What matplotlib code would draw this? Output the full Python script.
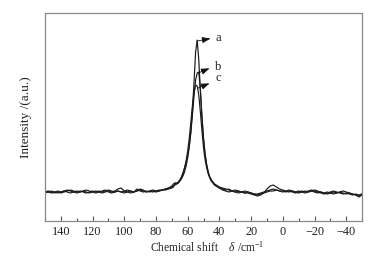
import numpy as np
import matplotlib
matplotlib.use("Agg")
import matplotlib.pyplot as plt

plt.rcParams['font.family'] = ['Liberation Serif', 'DejaVu Serif']
plt.rcParams['mathtext.fontset'] = 'custom'
plt.rcParams['mathtext.it'] = 'Liberation Serif:italic'
plt.rcParams['mathtext.rm'] = 'Liberation Serif'

# chemical shift grid (ppm)
shift = np.concatenate([np.arange(150, 69, -2), np.arange(69, 39, -1), np.arange(38, -51, -2)])

# intensities (a.u.)
a_vals = [
    0, 1, 0, -1, 0, -1, 0, 1, 2, 1, 0, 1, 0, -1, 0, 1, 0, 1, 0, 1, 2, 1, 0, 1, 0, -1, 0, 1, 0, 1, 2, 1, 0, 1, 0, 1, 2, 2, 3, 4, 5,
    6, 7, 8, 9, 11, 13, 16, 20, 26, 34, 45, 60, 82, 110, 140, 152, 132, 102, 74, 52, 37, 27, 20, 15, 12, 10, 8, 7, 6, 5,
    4, 3, 2, 1, 0, 1, 0, -1, 0, -1, -2, -2, -1, 0, 1, 2, 3, 2, 1, 1, 0, 1, 0, -1, 0, 1, 0, 1, 2, 1, 0, -1, -2, -1, 0, 1, 0, -1, -2, -1, -2, -3, -2, -3, -2,
]
b_vals = [
    1, 0, -1, 0, 1, 0, 1, 0, -1, 0, 1, 0, 1, 0, -1, 0, 1, 0, -1, 0, 1, 0, 1, 3, 4, 1, 0, -1, 0, 3, 1, 0, 1, 0, 1, 0, 1, 2, 3, 4, 6,
    8, 9, 9, 10, 12, 15, 19, 24, 30, 37, 47, 60, 77, 96, 112, 119, 120, 102, 76, 54, 38, 27, 19, 14, 11, 9, 7, 6, 5, 4,
    2, 1, 0, 1, 2, 1, 0, -1, -1, -2, -3, -4, -3, -1, 3, 6, 7, 5, 3, 2, 1, 0, 1, 0, -1, 0, 1, 0, 1, 0, -1, 0, -1, -2, -1, 0, -1, 0, -1, -2, -1, -2, -3, -4, -2,
]
c_vals = [
    -1, 0, 1, 0, -1, 0, 1, 2, 1, 0, -1, 0, 1, 2, 1, 0, -1, 0, 1, 2, 0, -1, 0, 1, 0, 1, 2, 1, 0, 1, 3, 2, 0, 1, 2, 1, 1, 2, 2, 3, 4,
    5, 9, 8, 9, 11, 14, 18, 24, 31, 41, 54, 70, 87, 100, 107, 106, 97, 80, 61, 44, 32, 24, 18, 14, 11, 9, 7, 6, 5, 4,
    3, 2, 3, 1, 0, -1, 0, 1, 0, -1, -2, -3, -2, -1, 0, 1, 1, 2, 1, 0, 1, 2, 1, 0, 1, 0, -1, 0, 1, 2, 1, 0, -1, 0, -1, -2, -1, 0, 1, 0, -1, -2, -3, -5, -3,
]
labels = ['a', 'b', 'c']
xticks = [140, 120, 100, 80, 60, 40, 20, 0, -20, -40]
xtick_labels = ['140', '120', '100', '80', '60', '40', '20', '0', '\u221220', '\u221240']

fig = plt.figure(figsize=(3.77, 2.58), dpi=100)
ax = fig.add_axes([0.1194, 0.1434, 0.841, 0.806])

for vals in (a_vals, b_vals, c_vals):
    ax.plot(shift, vals, color='#1a1a1a', lw=0.85)

ax.set_xlim(150, -50)
ax.set_ylim(-29, 179)
ax.set_xticks(xticks)
ax.set_xticklabels(xtick_labels)
ax.set_xticks(np.arange(150, -51, -10), minor=True)
ax.set_yticks([])
ax.tick_params(axis='x', which='major', direction='in', length=3.5, width=0.8, color='#555555',
               labelsize=8.8, pad=3.5, labelcolor='#222222')
ax.tick_params(axis='x', which='minor', direction='in', length=2, width=0.8, color='#555555')
for s in ax.spines.values():
    s.set_color('#8a8a8a')
    s.set_linewidth(0.9)

# peak labels with arrows
peak_tail = [(54.2, 151), (53.4, 119), (53.4, 104)]
arrow_head = [(45.6, 153.5), (46.2, 123.7), (46.2, 108.7)]
text_pos = [(42.5, 154), (42.5, 125.5), (42.5, 114)]
for lab, tail, head, tp in zip(labels, peak_tail, arrow_head, text_pos):
    ax.annotate('', xy=head, xytext=tail,
                arrowprops=dict(arrowstyle='-|>,head_length=0.5,head_width=0.18', color='#111111', lw=0.6,
                                shrinkA=0, shrinkB=0))
    ax.text(tp[0], tp[1], lab, fontsize=9, ha='left', va='center', color='#222222')

ax.text(0.511, -0.125, 'Chemical shift    $\\it{\\delta}$ /cm$^{-1}$', transform=ax.transAxes,
        ha='center', va='center', fontsize=8.3, color='#222222')
ax.set_ylabel('Intensity /(a.u.)', fontsize=9.5, color='#222222')
ax.yaxis.set_label_coords(-0.04, 0.50)

fig.savefig('out.png', dpi=100)
